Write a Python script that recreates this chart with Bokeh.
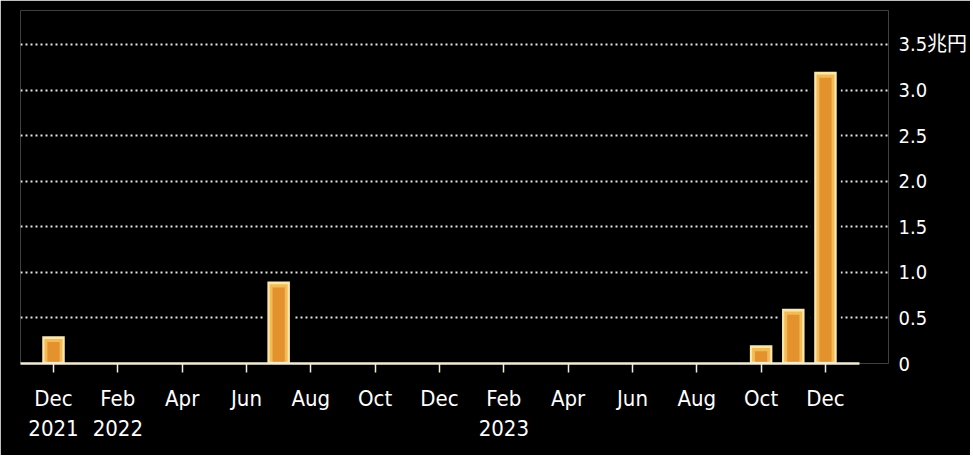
from bokeh.plotting import figure
from bokeh.models import FixedTicker, Range1d
from bokeh.embed import file_html
from bokeh.resources import INLINE

# ---- data ----
months = ["2021-12", "2022-01", "2022-02", "2022-03", "2022-04", "2022-05",
          "2022-06", "2022-07", "2022-08", "2022-09", "2022-10", "2022-11",
          "2022-12", "2023-01", "2023-02", "2023-03", "2023-04", "2023-05",
          "2023-06", "2023-07", "2023-08", "2023-09", "2023-10", "2023-11",
          "2023-12"]
values = [0.3, 0, 0, 0, 0, 0, 0, 0.9, 0, 0, 0, 0,
          0, 0, 0, 0, 0, 0, 0, 0, 0, 0, 0.2, 0.6, 3.2]
x_tick_labels = ["Dec\n2021", "Feb\n2022", "Apr", "Jun", "Aug", "Oct", "Dec",
                 "Feb\n2023", "Apr", "Jun", "Aug", "Oct", "Dec"]
y_ticks = [0, 0.5, 1.0, 1.5, 2.0, 2.5, 3.0, 3.5]
y_tick_labels = ["0", "0.5", "1.0", "1.5", "2.0", "2.5", "3.0", "3.5兆円"]

idx = list(range(len(months)))
x_ticks = idx[::2]

FONT = "'DejaVu Sans Condensed', 'DejaVu Sans', 'Noto Sans CJK JP', sans-serif"

p = figure(frame_width=868, frame_height=353, output_backend="svg",
           toolbar_location=None, x_range=Range1d(-1.026, 25.96),
           y_range=Range1d(0, 3.873), y_axis_location="right",
           min_border_left=20, min_border_top=10, min_border_bottom=92,
           min_border_right=4)
p.background_fill_color = "black"
p.border_fill_color = "black"
p.outline_line_color = None

# bars (layered to imitate the gold gradient)
vals = [v if v > 0 else 0 for v in values]
gap_top = [v + 0.045 if v > 0 else 0 for v in vals]
mid_top = [max(v - 0.03, 0) for v in vals]
in_top = [max(v - 0.065, 0) for v in vals]
mid_bot = [0.02 if v > 0 else 0 for v in vals]
p.vbar(x=idx, top=gap_top, width=0.95, fill_color="black", line_color=None)
p.vbar(x=idx, top=vals, width=0.70, fill_color="#fce7ab", line_color=None)
p.vbar(x=idx, top=mid_top, bottom=mid_bot, width=0.56, fill_color="#f2bb55", line_color=None)
p.vbar(x=idx, top=in_top, bottom=mid_bot, width=0.38, fill_color="#e3922e", line_color=None)

# x axis
xa = p.xaxis[0]
xa.ticker = FixedTicker(ticks=x_ticks)
xa.major_label_overrides = {t: lab for t, lab in zip(x_ticks, x_tick_labels)}
xa.bounds = (-1.026, 25.05)
xa.axis_line_color = "#f4ecd8"
xa.axis_line_width = 2.5
xa.major_tick_line_color = "#f4ecd8"
xa.major_tick_line_width = 1.5
xa.major_tick_in = 0
xa.major_tick_out = 9
xa.minor_tick_line_color = None
xa.major_label_text_color = "white"
xa.major_label_text_font = FONT
xa.major_label_text_font_size = "22px"
xa.major_label_text_line_height = 1.2
xa.major_label_standoff = 13

# y axis (right)
ya = p.yaxis[0]
ya.ticker = FixedTicker(ticks=y_ticks)
ya.major_label_overrides = {t: lab for t, lab in zip(y_ticks, y_tick_labels)}
ya.axis_line_color = None
ya.major_tick_line_color = None
ya.minor_tick_line_color = None
ya.major_label_text_color = "white"
ya.major_label_text_font = FONT
ya.major_label_text_font_size = "20px"
ya.major_label_standoff = 4

p.xgrid.grid_line_color = None
p.ygrid.ticker = FixedTicker(ticks=y_ticks)
p.ygrid.grid_line_color = "#e6e6e6"
p.ygrid.grid_line_width = 2
p.ygrid.grid_line_dash = "2 3"

open("out.html", "w").write(file_html(p, INLINE))
